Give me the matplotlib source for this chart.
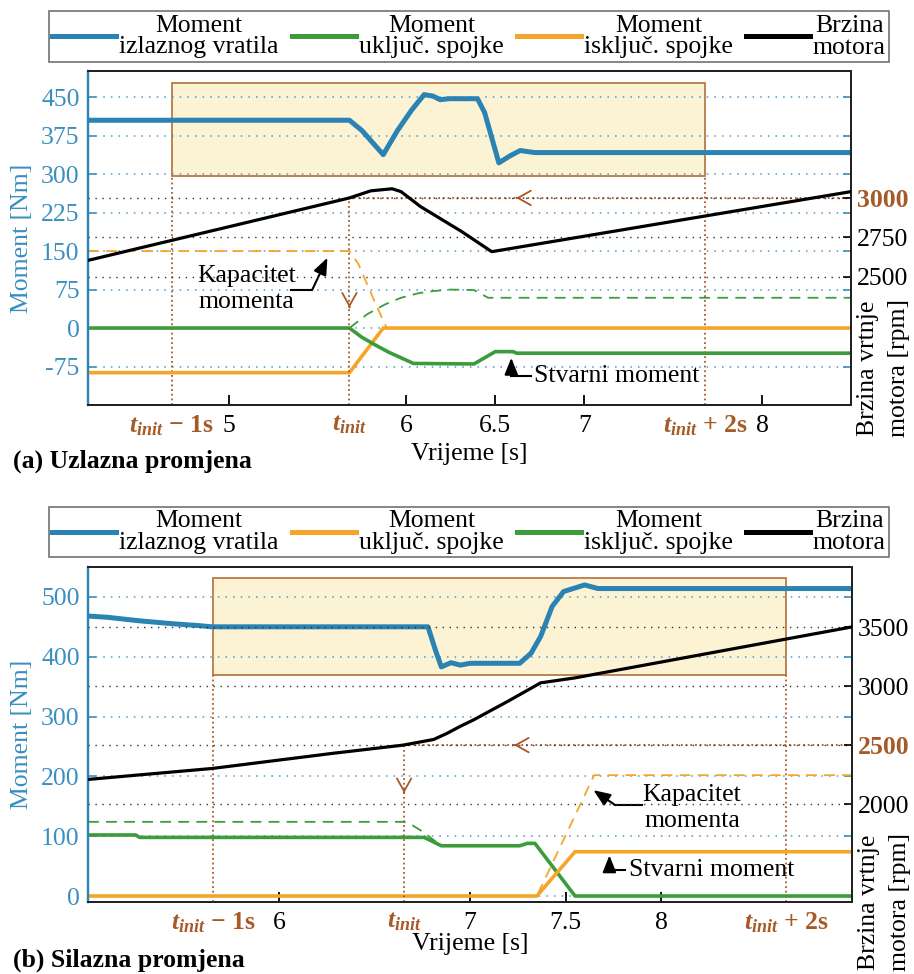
import matplotlib
matplotlib.use('Agg')
import matplotlib.pyplot as plt
from matplotlib.patches import Rectangle
from matplotlib.lines import Line2D

plt.rcParams['font.family'] = ['Liberation Serif', 'DejaVu Serif']
plt.rcParams['mathtext.fontset'] = 'custom'
plt.rcParams['mathtext.it'] = 'Liberation Serif:italic:bold'
plt.rcParams['mathtext.rm'] = 'Liberation Serif:bold'
plt.rcParams['mathtext.bf'] = 'Liberation Serif:bold'
FS = 18.5
plt.rcParams['font.size'] = FS

BLUE = '#2a83b3'
BLUE_TXT = '#3a8fc0'
GREEN = '#3c9c3c'
ORANGE = '#f5a52a'
BROWN = '#a65a28'
BOX_FILL = '#fcf2d4'
BOX_EDGE = '#b97a45'
GRID_BLUE = '#4a9acb'
GRID_BLACK = '#333333'

# ---------------- Panel (a): Uzlazna promjena ----------------
a_tinit = 5.68
a_xlim = (4.21, 8.5)
a_ylim_l = (-150, 500)
a_ylim_r = (1690, 3800)
a_xticks = [5, 6, 6.5, 7, 8]
a_xticklabels = ['5', '6', '6.5', '7', '8']
a_yticks_l = [-75, 0, 75, 150, 225, 300, 375, 450]
a_yticks_r = [2500, 2750, 3000]
a_speed_ref = 3000
a_box = (296, 477)

a_out_t = [4.21, 5.68, 5.75, 5.87, 5.95, 6.03, 6.10, 6.15, 6.19, 6.24, 6.40, 6.44, 6.52, 6.58, 6.64, 6.72, 8.5]
a_out_v = [405, 405, 385, 338, 385, 425, 455, 452, 445, 447, 447, 420, 322, 335, 346, 342, 342]
a_on_t = [4.21, 5.68, 5.75, 5.82, 5.90, 5.97, 6.04, 6.38, 6.44, 6.50, 6.60, 6.62, 8.5]
a_on_v = [0, 0, -18, -32, -47, -58, -69, -70, -58, -46, -46, -49, -49]
a_on_cap_t = [5.68, 5.78, 5.88, 5.97, 6.07, 6.15, 6.25, 6.38, 6.46, 8.5]
a_on_cap_v = [0, 27, 46, 59, 68, 72, 75, 74, 59, 59]
a_off_t = [4.21, 5.68, 5.87, 8.5]
a_off_v = [-87, -87, 0, 0]
a_off_cap_t = [4.21, 5.68, 5.73, 5.78, 5.83, 5.87, 5.89, 8.5]
a_off_cap_v = [150, 150, 125, 85, 45, 15, 0, 0]
a_spd_t = [4.21, 5.68, 5.80, 5.92, 5.97, 6.08, 6.31, 6.48, 8.5]
a_spd_v = [2605, 3000, 3045, 3058, 3040, 2945, 2788, 2660, 3040]

# ---------------- Panel (b): Silazna promjena ----------------
b_tinit = 6.655
b_xlim = (5.0, 9.0)
b_ylim_l = (-10, 550)
b_ylim_r = (1170, 4010)
b_xticks = [6, 7, 7.5, 8]
b_xticklabels = ['6', '7', '7.5', '8']
b_yticks_l = [0, 100, 200, 300, 400, 500]
b_yticks_r = [2000, 2500, 3000, 3500]
b_speed_ref = 2500
b_box = (370, 532)

b_out_t = [5.0, 5.1, 5.27, 5.45, 5.58, 5.65, 6.78, 6.82, 6.85, 6.90, 6.95, 7.0, 7.26, 7.32, 7.37, 7.43, 7.49, 7.60, 7.67, 9.0]
b_out_v = [468, 466, 460, 455, 452, 450, 450, 410, 383, 390, 386, 389, 389, 406, 434, 484, 509, 520, 514, 514]
b_on_t = [5.0, 7.35, 7.55, 9.0]
b_on_v = [0, 0, 74, 74]
b_on_cap_t = [5.0, 7.35, 7.65, 9.0]
b_on_cap_v = [0, 0, 202, 202]
b_off_t = [5.0, 5.25, 5.27, 6.76, 6.85, 7.26, 7.30, 7.34, 7.55, 9.0]
b_off_v = [102, 102, 98, 98, 84, 84, 88, 88, 0, 0]
b_off_cap_t = [5.0, 6.655, 6.70, 6.75, 6.80, 6.85, 7.26, 7.34, 7.55, 9.0]
b_off_cap_v = [124, 124, 118, 108, 96, 84, 84, 88, 0, 0]
b_spd_t = [5.0, 5.65, 6.28, 6.65, 6.81, 6.88, 6.95, 7.02, 7.20, 7.37, 7.55, 9.0]
b_spd_v = [2209, 2302, 2430, 2500, 2548, 2600, 2660, 2715, 2873, 3028, 3070, 3502]

a_legend_labels = ['Moment\nizlaznog vratila', 'Moment\nuključ. spojke',
                   'Moment\nisključ. spojke', 'Brzina\nmotora']
b_legend_labels = ['Moment\nizlaznog vratila', 'Moment\nuključ. spojke',
                   'Moment\nisključ. spojke', 'Brzina\nmotora']

W, H = 914, 974
fig = plt.figure(figsize=(W / 100, H / 100), dpi=100)


def px_rect(l, t, r, b):
    return [l / W, 1 - b / H, (r - l) / W, (b - t) / H]


def panel(rect, xlim, yl, yr, xticks, xticklabels, ytl, ytr, tinit, sref, box,
          out, oncl, oncl_cap, offcl, offcl_cap, spd, on_color, off_color,
          chev_a_t, chev_v_rpm, cap_txt, cap_stem, cap_tip, real_txt, real_stem, real_tip,
          ylab_r_y, xlab_y, legend_labels, legend_center, caption, caption_y):
    ax = fig.add_axes(rect)
    ax2 = ax.twinx()
    ax.set_xlim(*xlim)
    ax.set_ylim(*yl)
    ax2.set_ylim(*yr)

    # highlight box
    ax.add_patch(Rectangle((tinit - 1, box[0]), 3, box[1] - box[0], facecolor=BOX_FILL,
                           edgecolor=BOX_EDGE, lw=1.3, zorder=0.5))
    # grids
    ax.set_yticks(ytl)
    ax.set_yticklabels([str(v) for v in ytl])
    ax.grid(axis='y', color=GRID_BLUE, linestyle=(0, (1, 4)), lw=1.1)
    ax2.set_yticks(ytr)
    ax2.set_yticklabels([str(v) for v in ytr])
    ax2.grid(axis='y', color=GRID_BLACK, linestyle=(0, (1, 4)), lw=1.0, zorder=0)

    # brown reference lines
    dot = (0, (1, 1.6))
    ax.plot([tinit - 1, tinit - 1], [yl[0], box[0]], color=BROWN, ls=dot, lw=1.3, zorder=1.6)
    ax.plot([tinit + 2, tinit + 2], [yl[0], box[0]], color=BROWN, ls=dot, lw=1.3, zorder=1.6)
    ax2.plot([tinit, tinit], [yr[0], sref], color=BROWN, ls=dot, lw=1.3, zorder=1)
    ax2.plot([tinit, xlim[1]], [sref, sref], color=BROWN, ls=dot, lw=1.3, zorder=1)
    ax2.annotate('', xy=(chev_a_t, sref), xytext=(chev_a_t + 0.005, sref),
                 arrowprops=dict(arrowstyle='->,head_length=0.5,head_width=0.28', color=BROWN,
                                 lw=1.3, shrinkA=0, shrinkB=0))
    ax2.annotate('', xy=(tinit, chev_v_rpm), xytext=(tinit, chev_v_rpm + 3),
                 arrowprops=dict(arrowstyle='->,head_length=0.5,head_width=0.28', color=BROWN,
                                 lw=1.3, shrinkA=0, shrinkB=0))

    # series
    ax.plot(*offcl_cap, color=off_color, ls=(0, (6, 4)), lw=1.3, zorder=2)
    ax.plot(*oncl_cap, color=on_color, ls=(0, (6, 4)), lw=1.3, zorder=2)
    ax.plot(*offcl, color=off_color, lw=2.6, zorder=3)
    ax.plot(*oncl, color=on_color, lw=2.6, zorder=3)
    ax.plot(*out, color=BLUE, lw=3.6, zorder=4, solid_capstyle='butt')
    ax2.plot(*spd, color='black', lw=2.3, zorder=3)

    # annotations
    ax.text(cap_txt[0], cap_txt[1], 'Kapacitet\nmomenta', ha='center', va='center',
            multialignment='center', fontsize=FS, zorder=6)
    ax.plot([cap_stem[0][0], cap_stem[1][0]], [cap_stem[0][1], cap_stem[1][1]],
            color='black', lw=1.5, zorder=6)
    ax.annotate('', xy=cap_tip, xytext=cap_stem[1],
                arrowprops=dict(arrowstyle='-|>,head_length=0.55,head_width=0.22', color='black',
                                lw=1.5, shrinkA=0, shrinkB=0), zorder=6)
    ax.text(real_txt[0], real_txt[1], 'Stvarni moment', ha='left', va='center',
            fontsize=FS, zorder=6)
    ax.plot([real_stem[0][0], real_stem[1][0]], [real_stem[0][1], real_stem[1][1]],
            color='black', lw=1.5, zorder=6)
    ax.annotate('', xy=real_tip, xytext=real_stem[1],
                arrowprops=dict(arrowstyle='-|>,head_length=0.55,head_width=0.22', color='black',
                                lw=1.5, shrinkA=0, shrinkB=0), zorder=6)

    # x ticks
    ax.set_xticks(xticks)
    ax.set_xticklabels(xticklabels)
    ax.tick_params(axis='x', direction='in', length=7, width=1.3, pad=7, labelsize=FS)
    ax.tick_params(axis='y', direction='in', length=6, width=1.2, colors=BLUE_TXT,
                   labelsize=FS, pad=6, right=True)
    ax2.tick_params(axis='y', direction='in', length=6, width=1.2, colors='black',
                    labelsize=FS, pad=4)
    for lab in ax2.get_yticklabels():
        if lab.get_text() == str(sref):
            lab.set_color(BROWN)
            lab.set_fontweight('bold')
    tr = ax.get_xaxis_transform()
    special = [(tinit - 1, r'$t_{init}$ − 1s'), (tinit, r'$t_{init}$'), (tinit + 2, r'$t_{init}$ + 2s')]
    for xv, s in special:
        ax.text(xv, -0.024, s, transform=tr, ha='center', va='top', color=BROWN,
                fontweight='bold', fontsize=FS)

    # spines
    for a in (ax, ax2):
        a.spines['left'].set_color(BLUE)
        a.spines['left'].set_linewidth(1.6)
        for s in ('top', 'right', 'bottom'):
            a.spines[s].set_color('#222222')
            a.spines[s].set_linewidth(1.4)

    ax.set_ylabel('Moment [Nm]', color=BLUE_TXT, fontsize=FS)
    ax.yaxis.set_label_coords(-0.072, 0.5)
    ax2.set_ylabel('Brzina vrtnje\nmotora [rpm]', color='black', fontsize=FS, linespacing=1.5)
    ax2.yaxis.set_label_coords(1.008, ylab_r_y)
    ax.set_xlabel('Vrijeme [s]', fontsize=FS)
    ax.xaxis.set_label_coords(0.5, xlab_y)

    handles = [Line2D([], [], color=BLUE, lw=3.6),
               Line2D([], [], color=on_color, lw=3.6),
               Line2D([], [], color=off_color, lw=3.6),
               Line2D([], [], color='black', lw=3.6)]
    leg = fig.legend(handles, legend_labels, loc='center', bbox_to_anchor=legend_center,
                     ncol=4, frameon=True, fancybox=False, edgecolor='#666666', framealpha=1,
                     fontsize=FS, handlelength=2.5, handletextpad=0.12, columnspacing=0.5,
                     borderpad=0.12, borderaxespad=0)
    leg.get_frame().set_linewidth(1.1)
    for t in leg.get_texts():
        t.set_multialignment('center')
        t.set_linespacing(1.0)

    fig.text(13 / W, 1 - caption_y / H, caption, ha='left', va='center',
             fontweight='bold', fontsize=FS)
    return ax, ax2


# Panel (a): green = engaging (uključ.), orange = disengaging (isključ.)
panel(px_rect(88, 71.5, 851, 405), a_xlim, a_ylim_l, a_ylim_r, a_xticks, a_xticklabels,
      a_yticks_l, a_yticks_r, a_tinit, a_speed_ref, a_box,
      (a_out_t, a_out_v), (a_on_t, a_on_v), (a_on_cap_t, a_on_cap_v),
      (a_off_t, a_off_v), (a_off_cap_t, a_off_cap_v), (a_spd_t, a_spd_v),
      GREEN, ORANGE,
      6.617, 2306,
      (5.10, 76), ((5.35, 74), (5.47, 74)), (5.556, 137),
      (6.72, -93), ((6.70, -93), (6.59, -93)), (6.59, -58),
      0.11, -0.114, a_legend_labels, (469 / W, 1 - 36.5 / H),
      '(a) Uzlazna promjena', 461)

# Panel (b): orange = engaging (uključ.), green = disengaging (isključ.)
panel(px_rect(88, 567, 852, 902), b_xlim, b_ylim_l, b_ylim_r, b_xticks, b_xticklabels,
      b_yticks_l, b_yticks_r, b_tinit, b_speed_ref, b_box,
      (b_out_t, b_out_v), (b_on_t, b_on_v), (b_on_cap_t, b_on_cap_v),
      (b_off_t, b_off_v), (b_off_cap_t, b_off_cap_v), (b_spd_t, b_spd_v),
      ORANGE, GREEN,
      7.23, 2093,
      (8.163, 147), ((7.90, 152), (7.76, 152)), (7.646, 177),
      (7.83, 43), ((7.81, 43), (7.73, 43)), (7.73, 68),
      0.0, -0.0925, b_legend_labels, (469 / W, 1 - 532 / H),
      '(b) Silazna promjena', 960)

fig.savefig('out.png', dpi=100)
